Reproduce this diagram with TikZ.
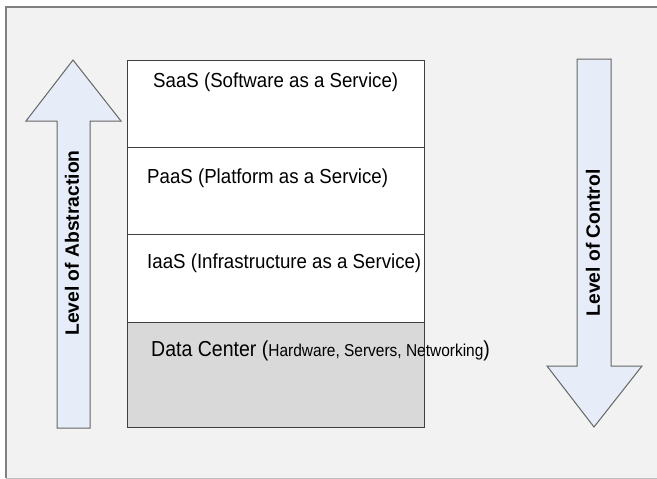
\documentclass[tikz,border=0pt]{standalone}
\usepackage{fontspec}
\setmainfont{Liberation Sans}
\begin{document}
\begin{tikzpicture}[x=1pt,y=-1pt,
  layer/.style={draw=black!75, line width=1pt},
  bigarrow/.style={draw=black!60, fill=arrowblue, line width=1pt, line join=miter},
  layertext/.style={anchor=base west, inner sep=0pt, font=\addfontfeatures{FakeStretch=0.92}\fontsize{20.3}{20.3}\selectfont},
  arrowtext/.style={inner sep=0pt, rotate=90, font=\bfseries\fontsize{19.3}{19.3}\selectfont}]
\definecolor{arrowblue}{HTML}{E6EDF8}
\definecolor{panel}{HTML}{F2F2F2}
\definecolor{dcgray}{HTML}{D9D9D9}
\useasboundingbox (0,0) rectangle (657,479);
% background panel with frame on left, top and bottom
\fill[panel] (5,7) rectangle (657,478);
\draw[black!50, line width=2pt] (657,7) -- (5.5,7) -- (5.5,478);
\draw[black!25, line width=1pt] (5.5,478) -- (657,478);
% layer stack
\fill[white] (127,60) rectangle (424,322);
\fill[dcgray] (127,322) rectangle (424,427);
\draw[layer] (127,60) rectangle (424,427);
\draw[layer] (127,147) -- (424,147);
\draw[layer] (127,234) -- (424,234);
\draw[layer] (127,322) -- (424,322);
\node[layertext] (saas) at (153,87) {SaaS (Software as a Service)};
\node[layertext] (paas) at (147,183) {PaaS (Platform as a Service)};
\node[layertext] (iaas) at (147,268) {IaaS (Infrastructure as a Service)};
\node[anchor=base west, inner sep=0pt] (dc) at (151,356) {\addfontfeatures{FakeStretch=0.9}{\fontsize{21.7}{21.7}\selectfont Data Center (}{\fontsize{17.2}{17.2}\selectfont Hardware, Servers, Networking}{\fontsize{21.7}{21.7}\selectfont )}};
% level of abstraction: upward arrow
\draw[bigarrow] (57,428) -- (57,121) -- (26,121) -- (73,60) -- (121,121) -- (90,121) -- (90,428) -- cycle;
\node[arrowtext] (abs) at (72,243) {Level of Abstraction};
% level of control: downward arrow
\draw[bigarrow] (577,59) -- (611,59) -- (611,366) -- (642,366) -- (594,427) -- (547,366) -- (577,366) -- cycle;
\node[arrowtext] (ctl) at (593,243) {Level of Control};
\end{tikzpicture}
\end{document}
